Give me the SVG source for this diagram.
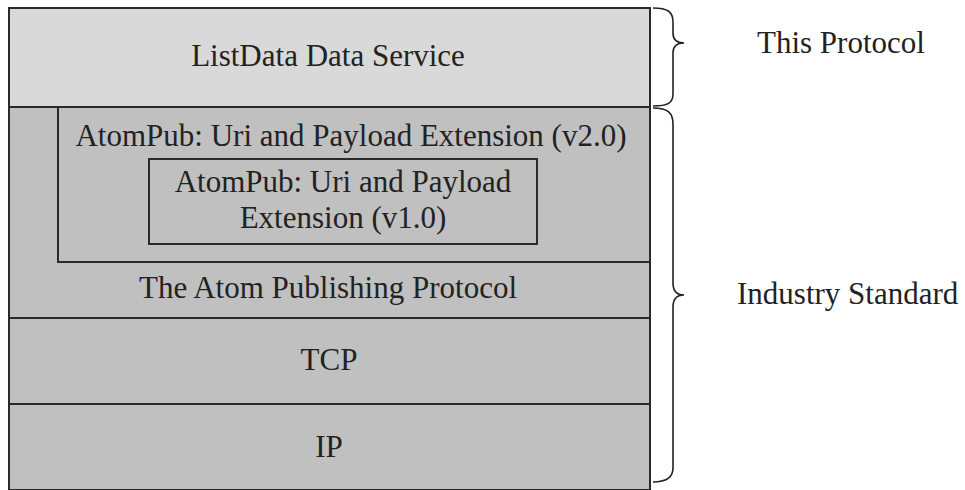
<svg xmlns="http://www.w3.org/2000/svg" width="965" height="490" viewBox="0 0 965 490">
<style>
  .t { font-family: "Liberation Serif", "Times New Roman", serif; font-size: 31px; fill: #222; }
  .m { text-anchor: middle; }
  .box { stroke: #2a2a2a; stroke-width: 2; }
  .light { fill: #d9d9d9; }
  .dark { fill: #c0c0c0; }
  .brace { fill: none; stroke: #222; stroke-width: 1.6; }
</style>
<rect width="965" height="490" fill="#ffffff"/>
<g id="ip">
  <rect class="box dark" x="9" y="404" width="641" height="86"/>
  <text class="t m" x="329" y="457">IP</text>
</g>
<g id="tcp">
  <rect class="box dark" x="9" y="318" width="641" height="86"/>
  <text class="t m" x="329" y="370">TCP</text>
</g>
<g id="atompub">
  <rect class="box dark" x="9" y="107" width="641" height="211"/>
  <text class="t m" x="328" y="298">The Atom Publishing Protocol</text>
</g>
<g id="ext-v2">
  <rect class="box dark" x="58" y="107" width="592" height="155"/>
  <text class="t m" x="351" y="146">AtomPub: Uri and Payload Extension (v2.0)</text>
</g>
<g id="ext-v1">
  <rect class="box dark" x="149" y="159" width="388" height="85"/>
  <text class="t m" x="343" y="192">AtomPub: Uri and Payload</text>
  <text class="t m" x="343" y="228">Extension (v1.0)</text>
</g>
<g id="listdata">
  <rect class="box light" x="9" y="8" width="641" height="99"/>
  <text class="t m" x="328" y="66">ListData Data Service</text>
</g>
<g id="connectors">
  <path class="brace" d="M653,8 C668,8 673,12 673,22 L673,33 C673,40 677,43 684,43 C677,43 673,46 673,53 L673,94 C673,103 668,106 653,106"/>
  <path class="brace" d="M653,108 C668,108 673,113 673,124 L673,283 C673,291 677,295 684,295 C677,295 673,299 673,307 L673,468 C673,478 666,482 653,482"/>
</g>
<g id="labels">
  <text class="t" x="757" y="53">This Protocol</text>
  <text class="t" x="737" y="304">Industry Standard</text>
</g>
</svg>
